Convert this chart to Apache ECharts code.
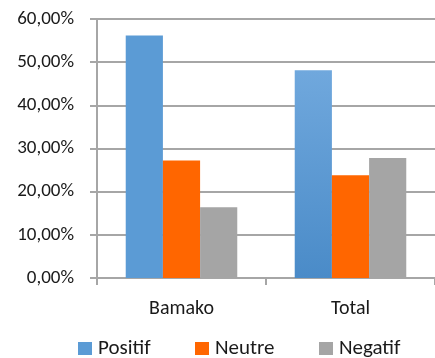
<!DOCTYPE html>
<html>
<head>
<meta charset="utf-8">
<script src="https://cdn.jsdelivr.net/npm/echarts@6/dist/echarts.min.js"></script>
<style>
  html, body { margin: 0; padding: 0; background: #fff; }
  #chart { width: 435px; height: 358px; }
</style>
</head>
<body>
<div id="chart"></div>
<script>
// Share of responses by sentiment, per location
const categories = ['Bamako', 'Total'];
const positif = [56.2, 48.1];
const neutre = [27.2, 23.8];
const negatif = [16.4, 27.8];
const seriesNames = ['Positif', 'Neutre', 'Negatif'];

const FONT = 'Carlito, Lato, "Open Sans", sans-serif';
const GRID = '#a6a6a6';
const TEXT = '#1a1a1a';

const chart = echarts.init(document.getElementById('chart'), null, { renderer: 'canvas' });

const blueGradient = new echarts.graphic.LinearGradient(0, 0, 0, 1, [
  { offset: 0, color: '#70a8dd' },
  { offset: 1, color: '#4a8bc8' }
]);

// one legend block per series so each entry sits at its own spot
const legendLeft = [78, 195, 319];
const legends = seriesNames.map((name, i) => ({
  data: [name],
  left: legendLeft[i],
  top: 338,
  padding: 0,
  itemWidth: 14,
  itemHeight: 13,
  icon: 'rect',
  textStyle: { fontFamily: FONT, fontSize: 21, color: TEXT, padding: [0, 0, 0, 1] }
}));

chart.setOption({
  animation: false,
  grid: { left: 97, top: 19, width: 342, height: 259, containLabel: false },
  legend: legends,
  xAxis: {
    type: 'category',
    data: categories,
    axisLine: { lineStyle: { color: GRID, width: 2 } },
    axisTick: { show: true, length: 7, lineStyle: { color: GRID, width: 2 } },
    axisLabel: { fontFamily: FONT, fontSize: 20, color: TEXT, margin: 21 }
  },
  yAxis: {
    type: 'value',
    min: 0,
    max: 60,
    interval: 10,
    axisLine: { show: true, lineStyle: { color: GRID, width: 2 } },
    axisTick: { show: true, length: 7, lineStyle: { color: GRID, width: 2 } },
    splitLine: { lineStyle: { color: GRID, width: 2 } },
    axisLabel: {
      fontFamily: FONT, fontSize: 19, color: TEXT, margin: 23,
      formatter: v => v.toFixed(2).replace('.', ',') + '%'
    }
  },
  series: [
    {
      name: 'Positif', type: 'bar', barGap: '0%', barCategoryGap: '34%',
      itemStyle: { color: '#5b9bd5' },
      data: positif.map((v, i) => i === 1 ? { value: v, itemStyle: { color: blueGradient } } : v)
    },
    {
      name: 'Neutre', type: 'bar', barGap: '0%', barCategoryGap: '34%',
      itemStyle: { color: '#ff6600' },
      data: neutre
    },
    {
      name: 'Negatif', type: 'bar', barGap: '0%', barCategoryGap: '34%',
      itemStyle: { color: '#a5a5a5' },
      data: negatif
    }
  ]
});
</script>
</body>
</html>
